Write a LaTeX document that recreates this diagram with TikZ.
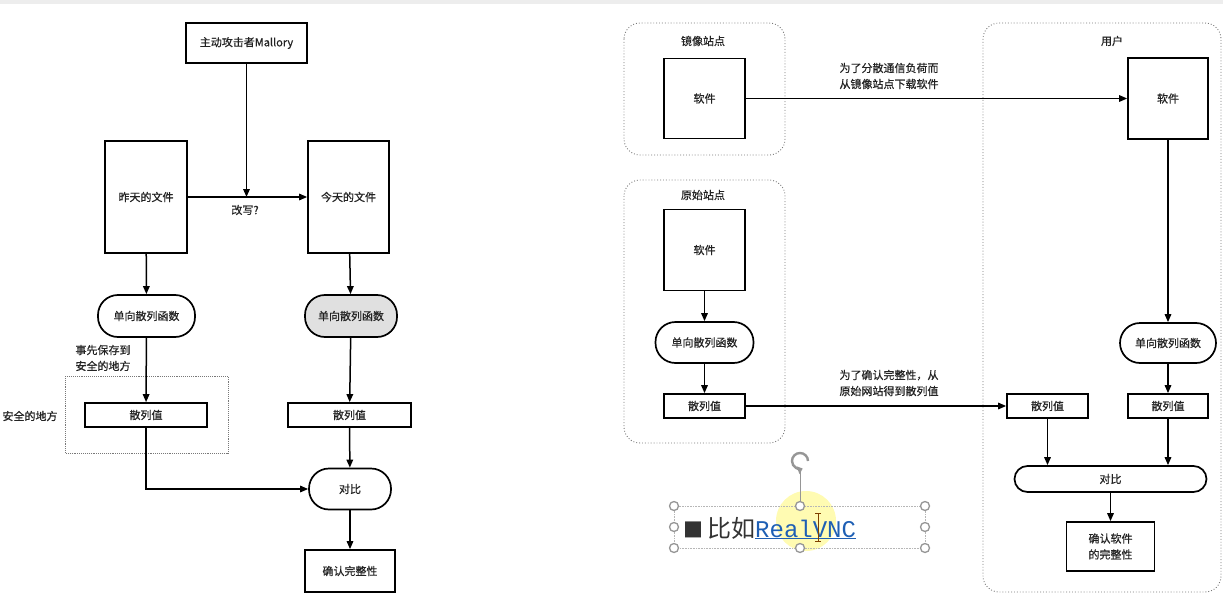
\documentclass[tikz,border=0pt]{standalone}
\usepackage{fontspec}
\setmainfont{Noto Sans CJK SC}
\newfontfamily\labelfont{Noto Sans CJK SC}[FakeBold=0.6]
\newfontfamily\monofont{Liberation Mono}
\usepackage{xcolor}
\definecolor{inkgray}{RGB}{35,35,35}
\definecolor{framegray}{RGB}{120,120,120}
\definecolor{handlegray}{RGB}{150,150,150}
\definecolor{linkblue}{RGB}{30,95,180}
\usetikzlibrary{arrows.meta,positioning}

\begin{document}
\begin{tikzpicture}[x=1pt, y=-1pt,
    every node/.style={font=\labelfont\fontsize{11}{16}\selectfont, text=inkgray},
    box/.style={rectangle, draw=black, line width=1.7pt, fill=white, inner sep=0pt, align=center},
    pill/.style={box, rounded corners=#1},
    site/.style={draw=framegray, dotted, line width=0.9pt, rounded corners=16pt},
    arr/.style={-{Triangle[length=8pt,width=6.5pt]}, line width=1.5pt},
    note/.style={align=left, inner sep=0pt},
    handle/.style={circle, draw=handlegray, fill=white, line width=1.3pt, minimum size=9pt, inner sep=0pt}
  ]
    \useasboundingbox (0,0) rectangle (1223,594);
    \fill[black!7] (0,0) rectangle (1223,4);

    % left: yesterday vs today
    \draw[site, rounded corners=0pt, densely dotted, line width=0.7pt] (65,376) rectangle (228,453);
    \node[box, minimum width=121pt, minimum height=40pt] (mallory) at (246.5,43) {主动攻击者Mallory};
    \node[box, minimum width=82pt, minimum height=112pt]  (yfile) at (146,197)   {昨天的文件};
    \node[box, minimum width=81pt, minimum height=112pt]  (tfile) at (348.5,197) {今天的文件};
    \node[pill=20pt, minimum width=97pt, minimum height=42pt] (yhash) at (146.5,316) {单向散列函数};
    \node[pill=20pt, fill=black!12, minimum width=92pt, minimum height=42pt] (thash) at (351,316) {单向散列函数};
    \node[box, minimum width=122pt, minimum height=24pt] (yval) at (146,415)   {散列值};
    \node[box, minimum width=123pt, minimum height=24pt] (tval) at (349.5,415) {散列值};
    \node[pill=20pt, minimum width=82pt, minimum height=41pt] (cmp) at (350,489) {对比};
    \node[box, minimum width=90pt, minimum height=42pt] (ok) at (350,571) {确认完整性};
    \node[note] (rewrite) at (245,210) {改写?};
    \node[note] (saved)   at (103,358) {事先保存到\\安全的地方};
    \node[note] (safe)    at (30,416)  {安全的地方};

    \draw[arr] (yfile) -- (tfile);
    \draw[arr] (mallory) -- (mallory |- yfile.east);
    \draw[arr] (yfile) -- (yhash);
    \draw[arr] (tfile) -- (thash);
    \draw[arr] (yhash) -- (yval);
    \draw[arr] (thash) -- (tval);
    \draw[arr] (tval) -- (cmp);
    \draw[arr] (yval) |- (cmp);
    \draw[arr] (cmp) -- (ok);

    % right: mirror site, original site, user
    \draw[site] (624,23)  rectangle (785,155);
    \draw[site] (624,180) rectangle (785,443);
    \draw[site] (983,23)  rectangle (1221,592);
    \node (mtitle) at (703,41)   {镜像站点};
    \node (otitle) at (703,195)  {原始站点};
    \node (utitle) at (1112,41)  {用户};

    \node[box, minimum width=81pt, minimum height=80pt] (msoft) at (704.5,98.5) {软件};
    \node[box, minimum width=81pt, minimum height=81pt] (osoft) at (704.5,250) {软件};
    \node[pill=20pt, minimum width=98pt, minimum height=41pt] (ohash) at (704.5,342.5) {单向散列函数};
    \node[box, minimum width=81pt, minimum height=24pt] (oval) at (704.5,406) {散列值};
    \node[box, minimum width=80pt, minimum height=81pt] (usoft) at (1168,98.5) {软件};
    \node[pill=20pt, minimum width=96pt, minimum height=40pt] (uhash) at (1168,343) {单向散列函数};
    \node[box, minimum width=80pt, minimum height=24pt] (uval) at (1168,406) {散列值};
    \node[box, minimum width=81pt, minimum height=24pt] (rval) at (1047.5,406) {散列值};
    \node[pill=13pt, minimum width=192pt, minimum height=26pt] (ucmp) at (1110.5,479) {对比};
    \node[box, minimum width=88pt, minimum height=49pt] (uok) at (1110.5,546.5) {确认软件\\的完整性};
    \node[note] (mnote) at (889,76)  {为了分散通信负荷而\\从镜像站点下载软件};
    \node[note] (onote) at (889,383) {为了确认完整性，从\\原始网站得到散列值};

    \draw[arr] (msoft) -- (usoft);
    \draw[arr] (osoft) -- (ohash);
    \draw[arr] (ohash) -- (oval);
    \draw[arr] (oval) -- (rval);
    \draw[arr] (usoft) -- (uhash);
    \draw[arr] (uhash) -- (uval);
    \draw[arr] (rval) -- (rval |- ucmp.north);
    \draw[arr] (uval) -- (uval |- ucmp.north);
    \draw[arr] (ucmp) -- (uok);

    % selected text box
    \fill[yellow!60, opacity=0.5] (806,521) circle[radius=30];
    \draw[handlegray!70, densely dotted, line width=0.6pt] (674,506) rectangle (925,548);
    \coordinate (rot) at (800,471);
    \draw[handlegray, line width=2.4pt, -{Triangle[length=5pt,width=8pt]}] (808,461) arc[start angle=0, end angle=-290, radius=8];
    \node[anchor=base west, inner sep=0pt, font=\fontsize{24}{28}\selectfont, text=black!80] (tip) at (683,537)
      {{\fontsize{20}{20}\selectfont ■}\,比如{\monofont\color{linkblue}\underline{RealVNC}}};
    \foreach \hx/\hy in {674/506,800/506,925/506,674/527,925/527,674/548,800/548,925/548}
      \node[handle] (hd-\hx-\hy) at (\hx,\hy) {};
    \draw[handlegray, line width=0.8pt] (rot) -- (hd-800-506);
    \draw[black!50!orange, line width=0.9pt] (818,513) -- (818,541) (815,513) -- (821,513) (815,541) -- (821,541);
  \end{tikzpicture}
\end{document}
